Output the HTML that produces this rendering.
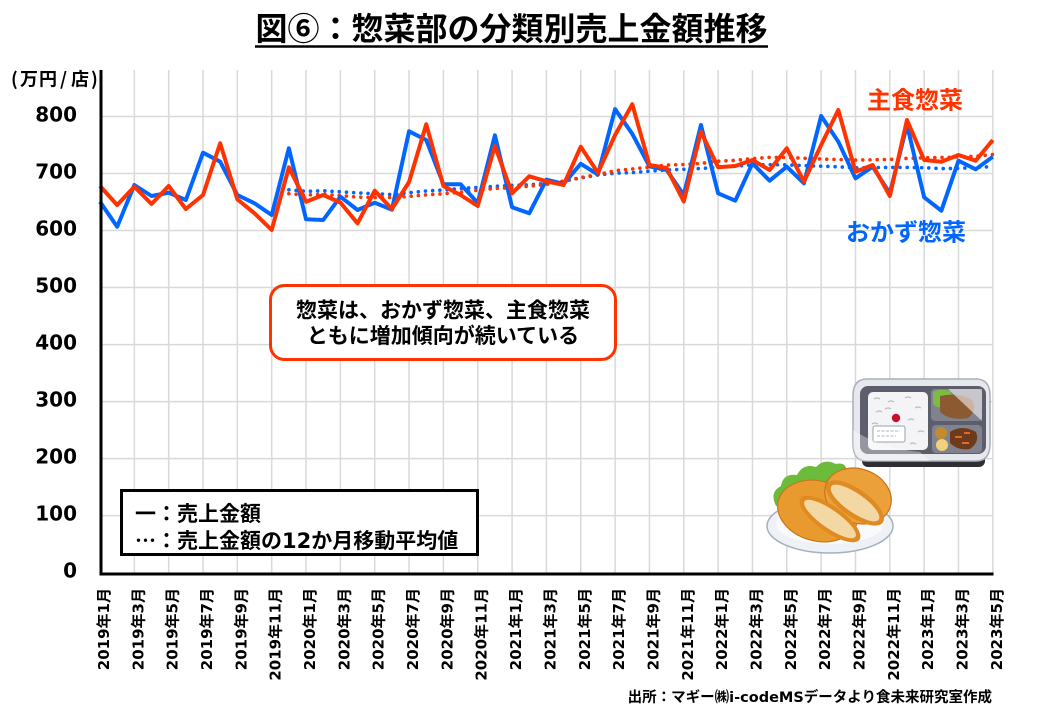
<!DOCTYPE html>
<html><head><meta charset="utf-8">
<style>
html,body{margin:0;padding:0;background:#fff;}
svg{display:block;}
text{font-family:"DejaVu Sans","Noto Sans CJK JP",sans-serif;font-weight:bold;}
.cjk{font-family:"Noto Sans CJK JP",sans-serif;}
</style></head><body>
<svg width="1040" height="720" viewBox="0 0 1040 720" xmlns="http://www.w3.org/2000/svg">
<rect width="1040" height="720" fill="#fff"/>

<!-- Title -->
<text x="511.5" y="40" text-anchor="middle" font-size="32" class="cjk" fill="#000">図⑥：惣菜部の分類別売上金額推移</text>
<line x1="255" y1="46.5" x2="768" y2="46.5" stroke="#000" stroke-width="2.5"/>

<!-- unit -->
<text y="85.5" font-size="18" class="cjk" fill="#000"><tspan x="11">(</tspan><tspan x="20">万</tspan><tspan x="39">円</tspan><tspan x="60">/</tspan><tspan x="71">店</tspan><tspan x="91">)</tspan></text>

<!-- gridlines -->
<g stroke="#d9d9d9" stroke-width="1.5">
<line x1="100" y1="116.46" x2="992.84" y2="116.46"/>
<line x1="100" y1="173.49" x2="992.84" y2="173.49"/>
<line x1="100" y1="230.52" x2="992.84" y2="230.52"/>
<line x1="100" y1="287.55" x2="992.84" y2="287.55"/>
<line x1="100" y1="344.58" x2="992.84" y2="344.58"/>
<line x1="100" y1="401.61" x2="992.84" y2="401.61"/>
<line x1="100" y1="458.64" x2="992.84" y2="458.64"/>
<line x1="100" y1="515.67" x2="992.84" y2="515.67"/>
<line x1="134.34" y1="70" x2="134.34" y2="573"/>
<line x1="168.68" y1="70" x2="168.68" y2="573"/>
<line x1="203.02" y1="70" x2="203.02" y2="573"/>
<line x1="237.36" y1="70" x2="237.36" y2="573"/>
<line x1="271.7" y1="70" x2="271.7" y2="573"/>
<line x1="306.04" y1="70" x2="306.04" y2="573"/>
<line x1="340.38" y1="70" x2="340.38" y2="573"/>
<line x1="374.72" y1="70" x2="374.72" y2="573"/>
<line x1="409.06" y1="70" x2="409.06" y2="573"/>
<line x1="443.4" y1="70" x2="443.4" y2="573"/>
<line x1="477.74" y1="70" x2="477.74" y2="573"/>
<line x1="512.08" y1="70" x2="512.08" y2="573"/>
<line x1="546.42" y1="70" x2="546.42" y2="573"/>
<line x1="580.76" y1="70" x2="580.76" y2="573"/>
<line x1="615.1" y1="70" x2="615.1" y2="573"/>
<line x1="649.44" y1="70" x2="649.44" y2="573"/>
<line x1="683.78" y1="70" x2="683.78" y2="573"/>
<line x1="718.12" y1="70" x2="718.12" y2="573"/>
<line x1="752.46" y1="70" x2="752.46" y2="573"/>
<line x1="786.8" y1="70" x2="786.8" y2="573"/>
<line x1="821.14" y1="70" x2="821.14" y2="573"/>
<line x1="855.48" y1="70" x2="855.48" y2="573"/>
<line x1="889.82" y1="70" x2="889.82" y2="573"/>
<line x1="924.16" y1="70" x2="924.16" y2="573"/>
<line x1="958.5" y1="70" x2="958.5" y2="573"/>
<line x1="992.84" y1="70" x2="992.84" y2="573"/>
</g>

<!-- y labels -->
<g font-size="20" text-anchor="end" fill="#000">
<text x="77" y="121.3">800</text>
<text x="77" y="178.3">700</text>
<text x="77" y="235.4">600</text>
<text x="77" y="292.4">500</text>
<text x="77" y="349.4">400</text>
<text x="77" y="406.4">300</text>
<text x="77" y="463.4">200</text>
<text x="77" y="520.5">100</text>
<text x="77" y="577.5">0</text>
</g>

<!-- moving averages -->
<polyline fill="none" stroke="#0066ff" stroke-width="3.6" stroke-linecap="round" stroke-dasharray="0.01 7.2" points="288.87,189.84 306.04,191.31 323.21,190.75 340.38,191.73 357.55,192.89 374.72,193.73 391.89,194.53 409.06,192.75 426.23,190.94 443.4,190.04 460.57,188.45 477.74,187.45 494.91,186.37 512.08,185.36 529.25,184.8 546.42,183.38 563.59,181.2 580.76,177.96 597.93,175.03 615.1,173.18 632.27,172.67 649.44,171.18 666.61,169.99 683.78,169.33 700.95,168.47 718.12,167.31 735.29,166.26 752.46,164.89 769.63,164.63 786.8,164.88 803.97,165.61 821.14,166.18 838.31,166.83 855.48,167.83 872.65,167.56 889.82,167.42 906.99,167.42 924.16,167.75 941.33,168.58 958.5,168.37 975.67,167.42 992.84,166.58"/>
<polyline fill="none" stroke="#ff3300" stroke-width="3.6" stroke-linecap="round" stroke-dasharray="0.01 7.2" points="288.87,193.74 306.04,195.05 323.21,194.22 340.38,195.53 357.55,197.14 374.72,197.53 391.89,197.53 409.06,196.45 426.23,194.87 443.4,193.76 460.57,192.23 477.74,190.23 494.91,188.46 512.08,187.76 529.25,186.2 546.42,184.43 563.59,181.24 580.76,177.58 597.93,174.56 615.1,170.64 632.27,168.97 649.44,167.22 666.61,164.97 683.78,164.58 700.95,163.39 718.12,161.23 735.29,160.37 752.46,158.59 769.63,157.34 786.8,157.48 803.97,158.22 821.14,159.05 838.31,159.53 855.48,160.09 872.65,159.84 889.82,159.39 906.99,158.42 924.16,157.81 941.33,157.45 958.5,157.03 975.67,156.26 992.84,154.53"/>

<!-- series -->
<polyline fill="none" stroke="#0066ff" stroke-width="4" stroke-linejoin="round" points="100,201.7 117.17,226.7 134.34,185 151.51,196 168.68,192.7 185.85,200 203.02,152.7 220.19,161.7 237.36,195 254.53,203.3 271.7,215 288.87,148.3 306.04,219.3 323.21,220 340.38,196.7 357.55,210 374.72,202.7 391.89,209.7 409.06,131.3 426.23,140 443.4,184.2 460.57,184.2 477.74,203 494.91,135.3 512.08,207.2 529.25,213.3 546.42,179.7 563.59,183.8 580.76,163.8 597.93,174.5 615.1,109.2 632.27,133.8 649.44,166.3 666.61,170 683.78,195 700.95,125 718.12,193.3 735.29,200.7 752.46,163.3 769.63,180.7 786.8,166.7 803.97,183.3 821.14,116 838.31,141.7 855.48,178.3 872.65,166.7 889.82,193.3 906.99,125 924.16,197.3 941.33,210.7 958.5,160.7 975.67,169.3 992.84,156.7"/>
<polyline fill="none" stroke="#ff3300" stroke-width="4" stroke-linejoin="round" points="100,186 117.17,205 134.34,186.7 151.51,204 168.68,186 185.85,209 203.02,195 220.19,143.3 237.36,199.3 254.53,213.3 271.7,230 288.87,167.3 306.04,201.7 323.21,195 340.38,202.5 357.55,223.3 374.72,190.7 391.89,209 409.06,182 426.23,124.3 443.4,186 460.57,195 477.74,206 494.91,146 512.08,193.3 529.25,176.3 546.42,181.3 563.59,185 580.76,146.7 597.93,172.8 615.1,135 632.27,104.2 649.44,165 666.61,168 683.78,201.4 700.95,131.7 718.12,167.3 735.29,166 752.46,160 769.63,170 786.8,148.3 803.97,181.7 821.14,145 838.31,110 855.48,171.7 872.65,165 889.82,196 906.99,120 924.16,160 941.33,161.7 958.5,155 975.67,160.7 992.84,140"/>

<!-- axes -->
<line x1="101" y1="70" x2="101" y2="575.5" stroke="#000" stroke-width="3"/>
<line x1="99.5" y1="574" x2="993.5" y2="574" stroke="#000" stroke-width="3"/>

<!-- series labels -->
<text x="867" y="108.5" font-size="24" fill="#ff3300">主食惣菜</text>
<text x="846" y="240.5" font-size="24" fill="#0066ff">おかず惣菜</text>

<!-- annotation -->
<rect x="270.5" y="285.5" width="345" height="74" rx="14" ry="14" fill="#fff" stroke="#ff3300" stroke-width="3"/>
<text x="443" y="317.5" font-size="21" text-anchor="middle" fill="#000">惣菜は、おかず惣菜、主食惣菜</text>
<text x="443" y="343" font-size="21" text-anchor="middle" fill="#000">ともに増加傾向が続いている</text>

<!-- legend -->
<rect x="121.5" y="490.5" width="356" height="64" fill="#fff" stroke="#000" stroke-width="3"/>
<text x="135" y="521" font-size="21" fill="#000">一：売上金額</text>
<text x="135" y="548" font-size="21" fill="#000"><tspan class="cjk">…</tspan>：売上金額の12か月移動平均値</text>

<!-- x labels -->
<g font-size="15" text-anchor="end" fill="#000">
<text transform="translate(109,588) rotate(-90)">2019年1月</text>
<text transform="translate(143.34,588) rotate(-90)">2019年3月</text>
<text transform="translate(177.68,588) rotate(-90)">2019年5月</text>
<text transform="translate(212.02,588) rotate(-90)">2019年7月</text>
<text transform="translate(246.36,588) rotate(-90)">2019年9月</text>
<text transform="translate(280.7,588) rotate(-90)">2019年11月</text>
<text transform="translate(315.04,588) rotate(-90)">2020年1月</text>
<text transform="translate(349.38,588) rotate(-90)">2020年3月</text>
<text transform="translate(383.72,588) rotate(-90)">2020年5月</text>
<text transform="translate(418.06,588) rotate(-90)">2020年7月</text>
<text transform="translate(452.4,588) rotate(-90)">2020年9月</text>
<text transform="translate(486.74,588) rotate(-90)">2020年11月</text>
<text transform="translate(521.08,588) rotate(-90)">2021年1月</text>
<text transform="translate(555.42,588) rotate(-90)">2021年3月</text>
<text transform="translate(589.76,588) rotate(-90)">2021年5月</text>
<text transform="translate(624.1,588) rotate(-90)">2021年7月</text>
<text transform="translate(658.44,588) rotate(-90)">2021年9月</text>
<text transform="translate(692.78,588) rotate(-90)">2021年11月</text>
<text transform="translate(727.12,588) rotate(-90)">2022年1月</text>
<text transform="translate(761.46,588) rotate(-90)">2022年3月</text>
<text transform="translate(795.8,588) rotate(-90)">2022年5月</text>
<text transform="translate(830.14,588) rotate(-90)">2022年7月</text>
<text transform="translate(864.48,588) rotate(-90)">2022年9月</text>
<text transform="translate(898.82,588) rotate(-90)">2022年11月</text>
<text transform="translate(933.16,588) rotate(-90)">2023年1月</text>
<text transform="translate(967.5,588) rotate(-90)">2023年3月</text>
<text transform="translate(1001.84,588) rotate(-90)">2023年5月</text>
</g>

<!-- source -->
<text x="992" y="702" font-size="14.5" text-anchor="end" fill="#000">出所：マギー㈱i-codeMSデータより食未来研究室作成</text>

<!-- bento -->
<g>
<rect x="862" y="446" width="123" height="21" rx="6" fill="#2e2e35"/>
<path d="M867 379 H976 Q990 379 990 396 V444 Q990 461 976 461 H867 Q853 461 853 444 V396 Q853 379 867 379 Z" fill="#e6e8ee" stroke="#a9aeba" stroke-width="1.5"/>
<rect x="860" y="386" width="126" height="68" rx="8" fill="#5c5e6b"/>
<rect x="868" y="392" width="60" height="58" rx="5" fill="#f4f4f6"/>
<g stroke="#b9bcc4" stroke-width="1.2" fill="none">
<path d="M874 399 q3 -2 6 0"/><path d="M888 402 q3 -2 6 0"/><path d="M905 398 q3 -2 6 0"/><path d="M915 408 q3 -2 6 0"/>
<path d="M876 412 q3 -2 6 0"/><path d="M908 420 q3 -2 6 0"/><path d="M918 432 q3 -2 6 0"/><path d="M910 444 q3 -2 6 0"/>
<path d="M872 424 q3 -2 6 0"/><path d="M885 409 q3 -2 6 0"/>
</g>
<circle cx="896" cy="418" r="4.2" fill="#c8102e"/>
<rect x="873" y="426" width="32" height="16" rx="2" fill="#fff" stroke="#9aa0ab" stroke-width="1"/>
<line x1="877" y1="431" x2="900" y2="431" stroke="#b0b4bc" stroke-width="1" stroke-dasharray="3 1.5"/>
<line x1="877" y1="436" x2="896" y2="436" stroke="#b0b4bc" stroke-width="1" stroke-dasharray="3 1.5"/>
<rect x="931" y="389" width="51" height="32" rx="4" fill="#80828e"/>
<path d="M933 392 Q940 388 950 391 Q955 398 948 405 Q938 410 933 404 Z" fill="#7dbb45"/>
<path d="M940 396 Q958 392 972 400 Q978 410 968 418 Q950 421 940 412 Z" fill="#8c5a30"/>
<path d="M948 389 L982 389 L982 421 Z" fill="#ffffff" opacity="0.55"/>
<rect x="932" y="425" width="50" height="28" rx="4" fill="#80828e"/>
<circle cx="941" cy="433" r="6" fill="#c58a2e"/>
<circle cx="942" cy="445" r="6" fill="#f0d27a"/>
<path d="M950 432 Q962 424 976 432 Q980 442 970 449 Q958 451 950 443 Z" fill="#6e3a1c"/>
<g fill="#e06a2a"><rect x="955" y="436" width="7" height="2"/><rect x="964" y="432" width="6" height="2"/><rect x="962" y="442" width="7" height="2"/></g>
<path d="M853 430 Q880 448 920 452 L930 461 L867 461 Q853 461 853 444 Z" fill="#ffffff" opacity="0.35"/>
</g>

<!-- croquettes -->
<g>
<ellipse cx="830" cy="526" rx="63" ry="27" fill="#eef1f5" stroke="#a5afbe" stroke-width="1.5"/>
<ellipse cx="830" cy="524" rx="54" ry="20" fill="#f9fafc"/>
<path d="M776 506 Q769 492 781 486 Q783 473 797 475 Q803 463 816 467 Q824 458 836 464 Q848 461 847 476 L830 503 Z" fill="#6cbb3a"/>
<ellipse cx="818" cy="511" rx="41" ry="30" transform="rotate(15 818 511)" fill="#e89a2e" stroke="#c9741b" stroke-width="1.2"/>
<ellipse cx="858" cy="496" rx="34" ry="27" transform="rotate(20 858 496)" fill="#eba03a" stroke="#c9741b" stroke-width="1.2"/>
<ellipse cx="830" cy="519" rx="36" ry="13" transform="rotate(35 830 519)" fill="#e08a22"/>
<ellipse cx="830" cy="519" rx="31" ry="9" transform="rotate(35 830 519)" fill="#f3d8a4"/>
<ellipse cx="855" cy="503" rx="34" ry="14" transform="rotate(35 855 503)" fill="#e08a22"/>
<ellipse cx="855" cy="503" rx="29" ry="9.5" transform="rotate(35 855 503)" fill="#f3d8a4"/>
</g>
</svg>
</body></html>
